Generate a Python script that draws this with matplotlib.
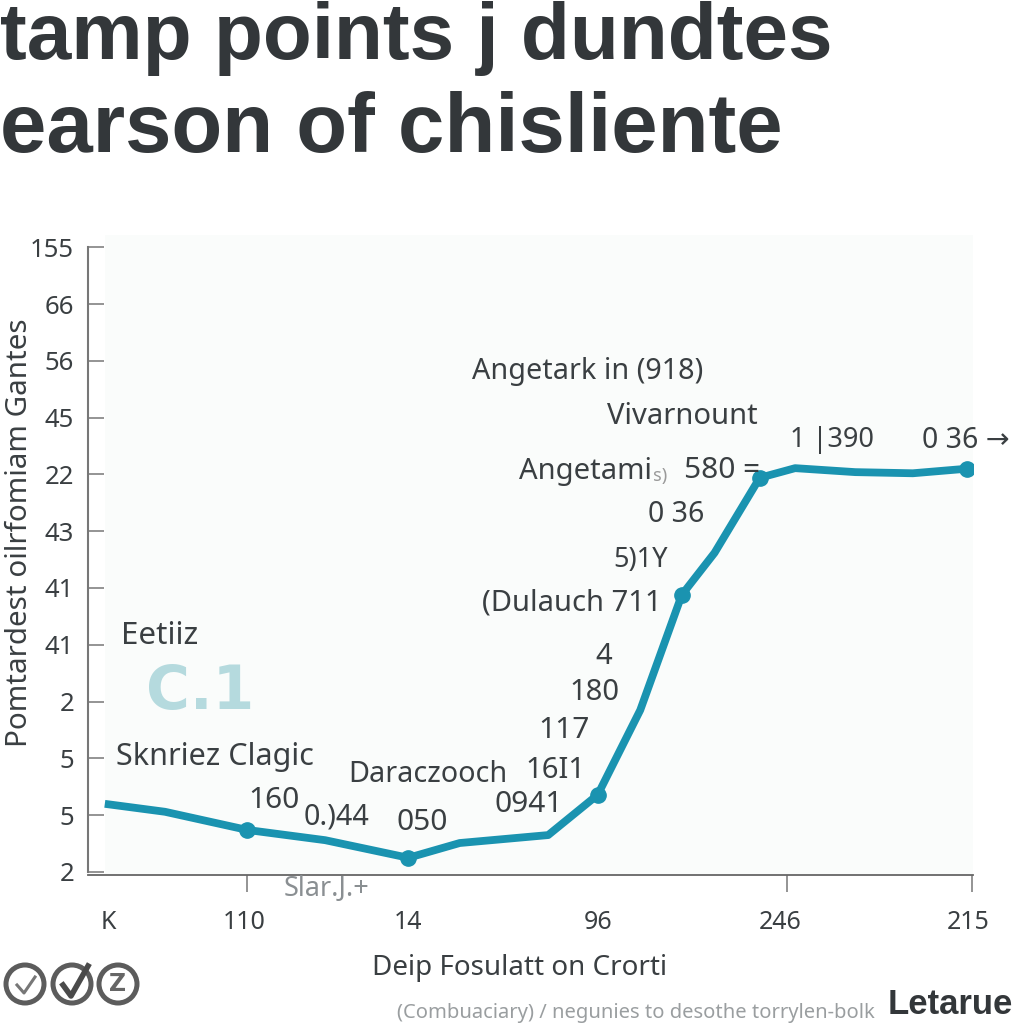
import matplotlib

matplotlib.use("Agg")
from matplotlib import pyplot as plt
from matplotlib.patches import Circle, Rectangle

plt.rcParams["font.family"] = ["Noto Sans", "DejaVu Sans"]

# ------------------------------------
# Data

line_x = [1.9, 8.7, 18, 26.8, 36.2, 42, 52, 57.6, 62.4, 67.1, 70.8, 75.9, 79.9, 86.7, 93.2, 99.3]
line_y = [1.2, 1.06, 0.74, 0.56, 0.25, 0.51, 0.65, 1.36, 2.85, 4.88, 5.62, 6.94, 7.11, 7.04, 7.02, 7.1]
marker_idx = [2, 4, 7, 9, 11, 15]

y_ticks = list(range(12))
y_labels = ["2", "5", "5", "2", "41", "41", "43", "22", "45", "56", "66", "155"]

x_marks = [18, 36.2, 57.6, 79, 99.9]
x_label_pos = [2.3, 17.6, 36.2, 57.6, 78.2, 99.4]
x_labels = ["K", "110", "14", "96", "246", "215"]

title_lines = ["tamp points j dundtes", "earson of chisliente"]
title_sizes = [57.7, 60]
x_title = "Deip Fosulatt on Crorti"
y_title = "Pomtardest oilrfomiam Gantes"

# text, left edge px, centre px, size, colour
notes = [
    ("Angetark in (918)", 472, 371, 20.7, "#3a3f42"),
    ("Vivarnount", 607, 417, 21, "#3a3f42"),
    ("Angetami", 519, 471, 21, "#3a3f42"),
    ("s)", 653, 476, 13, "#9a9a9a"),
    ("580 =", 684, 471, 21.5, "#3a3f42"),
    ("0 36", 648, 515, 20.5, "#3a3f42"),
    ("5)1Y", 613, 560, 19.5, "#3a3f42"),
    ("(Dulauch 711", 482, 603, 21, "#3a3f42"),
    ("1 |390", 790, 440, 19.5, "#3a3f42"),
    ("0 36 \u2192", 922, 440, 20.5, "#3a3f42"),
    ("4", 595, 656, 21, "#3a3f42"),
    ("180", 569, 693, 21, "#3a3f42"),
    ("117", 538, 730, 21.5, "#3a3f42"),
    ("16I1", 525, 771, 21, "#3a3f42"),
    ("0941", 494, 805, 21.5, "#3a3f42"),
    ("Daraczooch", 348, 774, 20.7, "#3a3f42"),
    ("050", 397, 823, 21.5, "#3a3f42"),
    ("0.)44", 304, 817, 20.7, "#3a3f42"),
    ("160", 248, 800, 21.5, "#3a3f42"),
    ("Sknriez Clagic", 116, 757, 22, "#3a3f42"),
    ("Eetiiz", 121, 636, 22.5, "#3a3f42"),
    ("Slar.J.+", 284, 889, 19.5, "#8a8f92"),
]

footer = "(Combuaciary) / negunies to desothe torrylen-bolk"
brand = "Letarue"

# ------------------------------------
# Chart

fig = plt.figure(figsize=(10.24, 10.24), dpi=100)
ax = fig.add_axes([88 / 1024, 1 - 875 / 1024, 885 / 1024, 640 / 1024])
ax.set_xlim(0, 100)
ax.set_ylim(-0.053, 11.215)

ax.add_patch(
    Rectangle((17 / 885, 0), 868 / 885, 1, transform=ax.transAxes, color="#fafcfb", lw=0, zorder=0)
)
ax.plot(
    line_x,
    line_y,
    color="#1a93b0",
    lw=5.6,
    marker="o",
    ms=11,
    markevery=marker_idx,
    solid_joinstyle="round",
    solid_capstyle="butt",
    zorder=3,
)

for side in ["top", "right"]:
    ax.spines[side].set_visible(False)
ax.spines["left"].set_bounds(0, 11)
ax.spines["left"].set_color("#777777")
ax.spines["bottom"].set_color("#666666")
ax.spines["left"].set_linewidth(1.5)
ax.spines["bottom"].set_linewidth(1.3)

ax.set_yticks(y_ticks, y_labels)
ax.tick_params(axis="y", direction="in", length=11.5, width=1.1, color="#777777", pad=10,
               labelsize=18.5, labelcolor="#3a3f42")
ax.set_xticks(x_label_pos, x_labels)
ax.tick_params(axis="x", which="major", length=0, pad=25, labelsize=18, labelcolor="#3a3f42")
ax.set_xticks(x_marks, minor=True)
ax.tick_params(axis="x", which="minor", length=12, width=1.1, color="#777777")

# ------------------------------------
# Free text and badges, in picture pixels

over = fig.add_axes([0, 0, 1, 1], facecolor="none")
over.set_xlim(0, 1024)
over.set_ylim(1024, 0)
over.axis("off")

for i, line in enumerate(title_lines):
    over.text(0, 38 + i * 92, line, fontsize=title_sizes[i], fontweight="bold", family="Liberation Sans",
              color="#33373a", va="center")

over.text(20, 533, y_title, rotation=90, fontsize=21.3, color="#3a3f42", ha="center", va="center")
over.text(520, 968, x_title, fontsize=20, color="#3a3f42", ha="center", va="center")
over.text(200, 692, "C.1", fontsize=43, fontweight="bold", family="DejaVu Sans", color="#b5dade",
          ha="center", va="center")

for text, left, centre, size, colour in notes:
    over.text(left, centre, text, fontsize=size, color=colour, va="center")

over.text(397, 1013, footer, fontsize=14.5, color="#9a9ea0", va="center")
over.text(888, 1005, brand, fontsize=25, fontweight="bold", color="#33373a", va="center",
          family="Liberation Sans")

for cx in [25, 72, 118]:
    over.add_patch(Circle((cx, 984), 19, fill=False, ec="#5c5c5c", lw=3.6))
over.plot([17, 24, 35], [985, 993, 977], color="#777777", lw=2.2)
over.plot([63, 71, 88], [985, 996, 966], color="#4a4a4a", lw=4)
over.text(118, 984, "Z", fontsize=17, fontweight="bold", family="DejaVu Sans", color="#666666",
          ha="center", va="center")

fig.savefig("out.png", dpi=100)
